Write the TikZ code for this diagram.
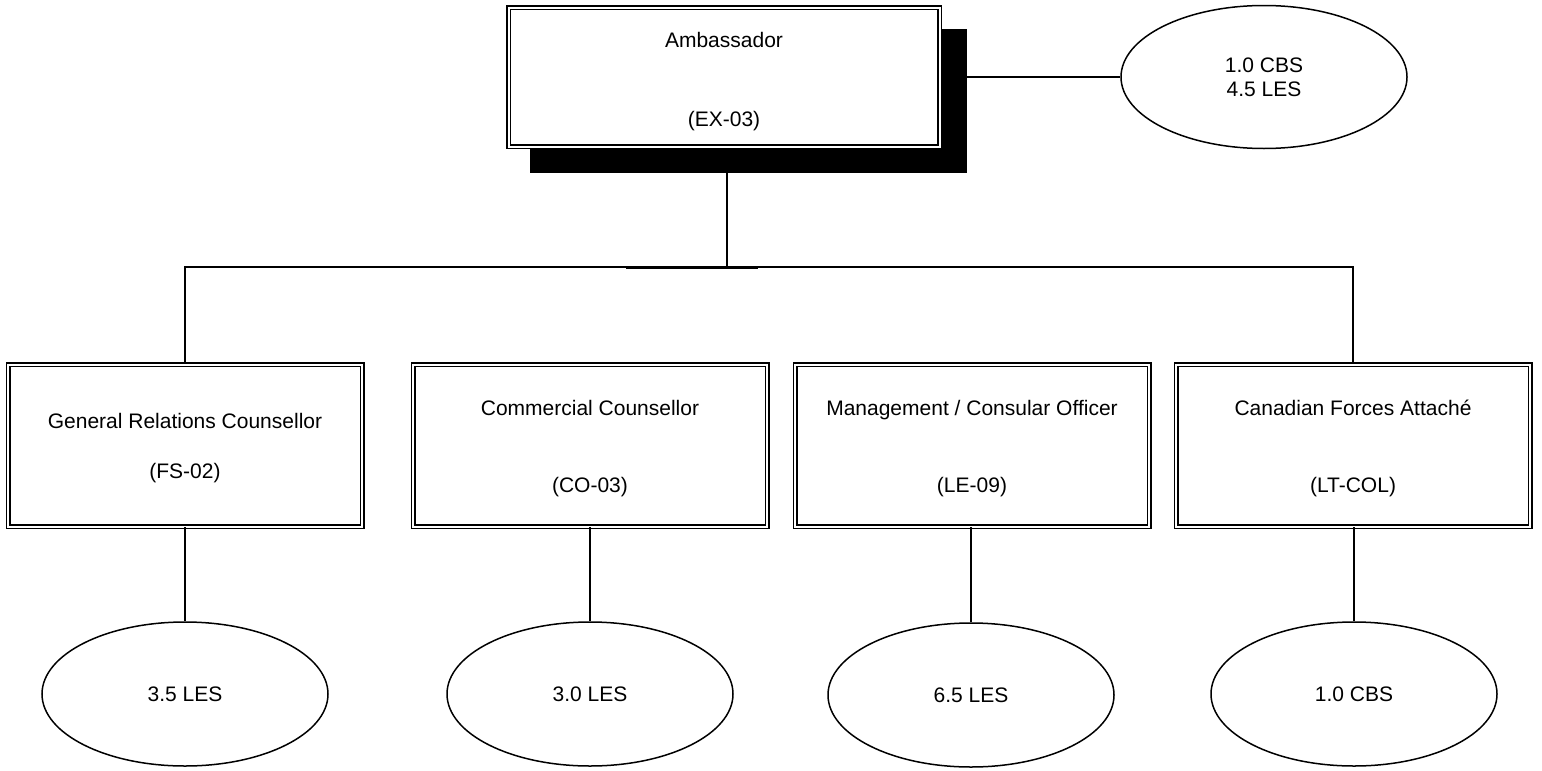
\documentclass[tikz,border=0pt]{standalone}
\usepackage{fontspec}
\setmainfont{Liberation Sans}
\usetikzlibrary{shapes.geometric}
\begin{document}
\begin{tikzpicture}[x=1pt,y=-1pt,
  txt/.style={font=\fontsize{21}{24}\selectfont, align=center, inner sep=0pt},
  post/.style={txt, draw, double, line width=1.5pt, double distance=2pt, fill=white,
    minimum width=354pt, minimum height=162pt},
  topbox/.style={post, minimum width=431pt, minimum height=139pt},
  shade/.style={fill=black, draw=none, inner sep=0pt, minimum width=437pt, minimum height=144pt},
  staff/.style={txt, ellipse, draw, line width=1.5pt, minimum width=286pt, minimum height=144pt},
  inside/.style={txt, yshift=#1},
  link/.style={line width=1.3pt},
  bar/.style={line width=3pt}]
\useasboundingbox (0,0) rectangle (1542,771);

% Ambassador with shadow
\node[shade] (shadow) at (748.5,101) {};
\node[topbox, label={[inside=-5pt, name=ambt]center:{Ambassador\\[55pt](EX-03)}}] (amb) at (724,77) {};
\node[staff, minimum height=143pt] (top) at (1264,77) {1.0 CBS\\4.5 LES};

% subordinate posts
\node[post, label={[inside=-3pt, name=b1t]center:{General Relations Counsellor\\[26pt](FS-02)}}] (b1) at (185,445.5) {};
\node[post, label={[inside=-3pt, name=b2t]center:{Commercial Counsellor\\[53pt](CO-03)}}] (b2) at (590,445.5) {};
\node[post, label={[inside=-3pt, name=b3t]center:{Management / Consular Officer\\[53pt](LE-09)}}] (b3) at (972,445.5) {};
\node[post, label={[inside=-3pt, name=b4t]center:{Canadian Forces Attach\'e\\[53pt](LT-COL)}}] (b4) at (1353,445.5) {};

% staff ellipses
\node[staff] (e1) at (185,694) {3.5 LES};
\node[staff] (e2) at (590,694) {3.0 LES};
\node[staff] (e3) at (971,695) {6.5 LES};
\node[staff] (e4) at (1354,694) {1.0 CBS};

% bus
\coordinate (bus) at (727,267);
\coordinate (barL) at (626,267);
\coordinate (barR) at (758,267);

\draw[link] (shadow.south -| bus) -- (bus);
\draw[link] (shadow.east |- top.west) -- (top.west);
\draw[link] (b1.north) -- (b1.north |- bus) -- (b4.north |- bus) -- (b4.north);
\draw[bar] (barL) -- (barR);

\draw[link] (b1.south) -- (e1.north);
\draw[link] (b2.south) -- (e2.north);
\draw[link] (b3.south) -- (b3.south -| e3.north) -- (e3.north);
\draw[link] (b4.south) -- (b4.south -| e4.north) -- (e4.north);
\end{tikzpicture}
\end{document}
